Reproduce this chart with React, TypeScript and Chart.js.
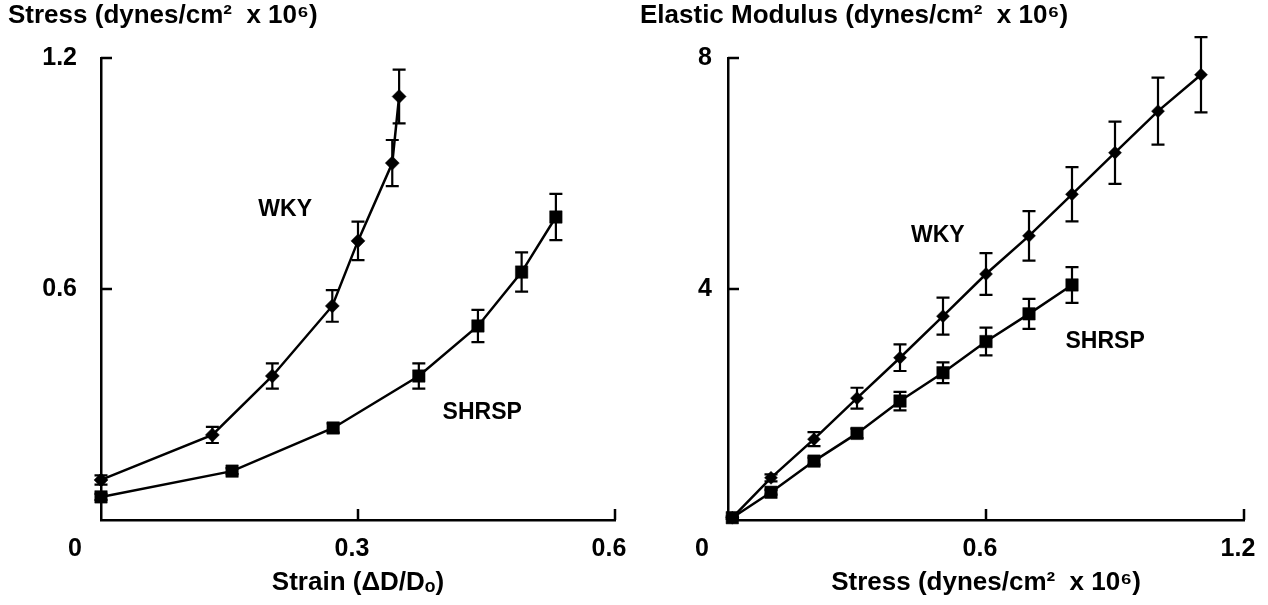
import React, { useEffect, useRef } from "react";
import { Chart, registerables } from "chart.js";

Chart.register(...registerables);

const FAMILY = "'Liberation Sans', Arial, Helvetica, sans-serif";

// ---------- Left panel: stress vs strain ----------
const leftTitle = "Stress (dynes/cm²  x 10⁶)";
const leftXTitle = "Strain (ΔD/Dₒ)";
const leftXTicks = [0, 0.3, 0.6];
const leftXTickLabels = ["", "0.3", "0.6"];
const leftYTicks = [0, 0.6, 1.2];
const leftYTickLabels = ["", "0.6", "1.2"];

const wkyStrain = [0, 0.13, 0.2, 0.27, 0.3, 0.34, 0.348];
const wkyStress = [0.104, 0.221, 0.374, 0.556, 0.725, 0.927, 1.1];
const wkyStressErr = [0.012, 0.021, 0.033, 0.041, 0.05, 0.06, 0.07];

const shrspStrain = [0, 0.153, 0.271, 0.371, 0.44, 0.491, 0.531];
const shrspStress = [0.06, 0.127, 0.239, 0.374, 0.504, 0.644, 0.787];
const shrspStressErr = [0.008, 0.008, 0.012, 0.033, 0.042, 0.051, 0.06];

const leftLabels = [
  { text: "WKY", x: 0.215, y: 0.805 },
  { text: "SHRSP", x: 0.445, y: 0.278 },
];

// ---------- Right panel: elastic modulus vs stress ----------
const rightTitle = "Elastic Modulus (dynes/cm²  x 10⁶)";
const rightXTitle = "Stress (dynes/cm²  x 10⁶)";
const rightXTicks = [0, 0.6, 1.2];
const rightXTickLabels = ["", "0.6", "1.2"];
const rightYTicks = [0, 4, 8];
const rightYTickLabels = ["", "4", "8"];

const wkyModStress = [0.01, 0.1, 0.2, 0.3, 0.4, 0.5, 0.6, 0.7, 0.8, 0.9, 1.0, 1.1];
const wkyModulus = [0.04, 0.73, 1.4, 2.11, 2.81, 3.53, 4.26, 4.92, 5.64, 6.36, 7.08, 7.71];
const wkyModulusErr = [0.02, 0.06, 0.12, 0.18, 0.23, 0.32, 0.36, 0.43, 0.47, 0.54, 0.58, 0.65];

const shrspModStress = [0.01, 0.1, 0.2, 0.3, 0.4, 0.5, 0.6, 0.7, 0.8];
const shrspModulus = [0.04, 0.48, 1.02, 1.5, 2.06, 2.55, 3.09, 3.57, 4.07];
const shrspModulusErr = [0.02, 0.04, 0.06, 0.08, 0.16, 0.18, 0.24, 0.26, 0.31];

const rightLabels = [
  { text: "WKY", x: 0.488, y: 4.93 },
  { text: "SHRSP", x: 0.877, y: 3.08 },
];

type Series = {
  name: string;
  xs: number[];
  ys: number[];
  errs: number[];
  style: string;
  radius: number;
};

type PanelSpec = {
  title: string;
  xTitle: string;
  xMax: number;
  yMax: number;
  xTicks: number[];
  xTickLabels: string[];
  yTicks: number[];
  yTickLabels: string[];
  series: Series[];
  labels: { text: string; x: number; y: number }[];
  padLeft: number;
  padRight: number;
  yWidth: number;
  yLabelPad: number;
};

const decorPlugin = {
  id: "decor",
  afterDatasetsDraw(chart: any, _args: any, opts: any) {
    const ctx = chart.ctx as CanvasRenderingContext2D;
    const xs = chart.scales.x;
    const ys = chart.scales.y;
    const area = chart.chartArea;
    ctx.save();
    ctx.strokeStyle = "#000";
    ctx.fillStyle = "#000";
    // error bars
    ctx.lineWidth = 2.2;
    chart.data.datasets.forEach((ds: any, di: number) => {
      const meta = chart.getDatasetMeta(di);
      meta.data.forEach((pt: any, i: number) => {
        const v = ds.data[i].y;
        const e = ds.errors[i];
        const yt = ys.getPixelForValue(v + e);
        const yb = ys.getPixelForValue(v - e);
        const c = opts.cap;
        ctx.beginPath();
        ctx.moveTo(pt.x, yt);
        ctx.lineTo(pt.x, yb);
        ctx.moveTo(pt.x - c, yt);
        ctx.lineTo(pt.x + c, yt);
        ctx.moveTo(pt.x - c, yb);
        ctx.lineTo(pt.x + c, yb);
        ctx.stroke();
      });
    });
    // inward tick marks
    ctx.lineWidth = 2.5;
    ctx.beginPath();
    xs.ticks.forEach((t: any) => {
      if (t.value === 0) return;
      const px = xs.getPixelForValue(t.value);
      ctx.moveTo(px, area.bottom);
      ctx.lineTo(px, area.bottom - opts.tickLen);
    });
    ys.ticks.forEach((t: any) => {
      if (t.value === 0) return;
      const py = ys.getPixelForValue(t.value);
      ctx.moveTo(area.left, py);
      ctx.lineTo(area.left + opts.tickLen, py);
    });
    ctx.stroke();
    // shared origin label
    ctx.font = `bold 25px ${FAMILY}`;
    ctx.textAlign = "center";
    ctx.textBaseline = "middle";
    ctx.fillText("0", area.left - 26, area.bottom + 29);
    // series labels
    ctx.font = `bold 23px ${FAMILY}`;
    opts.labels.forEach((l: any) => {
      ctx.fillText(l.text, xs.getPixelForValue(l.x), ys.getPixelForValue(l.y));
    });
    ctx.restore();
  },
};

function makeConfig(p: PanelSpec): any {
  const tickFont = { family: FAMILY, size: 25, weight: "bold" as const };
  const titleFont = { family: FAMILY, size: 26, weight: "bold" as const, lineHeight: 1.2 };
  return {
    type: "line",
    data: {
      datasets: p.series.map((s) => ({
        label: s.name,
        data: s.xs.map((x, i) => ({ x, y: s.ys[i] })),
        errors: s.errs,
        showLine: true,
        borderColor: "#000",
        borderWidth: 2.5,
        backgroundColor: "#000",
        pointBackgroundColor: "#000",
        pointBorderColor: "#000",
        pointBorderWidth: 0.5,
        pointStyle: s.style,
        pointRadius: s.radius,
        tension: 0,
        clip: false,
      })),
    },
    options: {
      animation: false,
      responsive: false,
      maintainAspectRatio: false,
      events: [],
      layout: { padding: { left: p.padLeft, right: p.padRight, top: 0, bottom: 0 } },
      plugins: {
        legend: { display: false },
        tooltip: { enabled: false },
        title: {
          display: true,
          text: p.title,
          align: "start",
          color: "#000",
          font: titleFont,
          padding: { top: 0, bottom: 26.8 },
        },
        decor: { labels: p.labels, cap: 6.5, tickLen: 11 },
      },
      scales: {
        x: {
          type: "linear",
          min: 0,
          max: p.xMax,
          afterBuildTicks: (s: any) => {
            s.ticks = p.xTicks.map((v) => ({ value: v }));
          },
          afterFit: (s: any) => {
            s.height = 85;
            s.paddingLeft = 0;
            s.paddingRight = 0;
          },
          ticks: {
            color: "#000",
            font: tickFont,
            padding: 14,
            labelOffset: -6,
            maxRotation: 0,
            callback: (_v: any, i: number) => p.xTickLabels[i],
          },
          grid: { display: false, drawTicks: false },
          border: { display: true, color: "#000", width: 2.5 },
          title: {
            display: true,
            text: p.xTitle,
            color: "#000",
            font: titleFont,
            padding: { top: 0, bottom: 7 },
          },
        },
        y: {
          type: "linear",
          min: 0,
          max: p.yMax,
          afterBuildTicks: (s: any) => {
            s.ticks = p.yTicks.map((v) => ({ value: v }));
          },
          afterFit: (s: any) => {
            s.width = p.yWidth;
            s.paddingTop = 0;
            s.paddingBottom = 0;
          },
          ticks: {
            color: "#000",
            font: tickFont,
            padding: p.yLabelPad,
            callback: (_v: any, i: number) => p.yTickLabels[i],
          },
          grid: { display: false, drawTicks: false },
          border: { display: true, color: "#000", width: 2.5 },
        },
      },
    },
    plugins: [decorPlugin],
  };
}

const leftSpec: PanelSpec = {
  title: leftTitle,
  xTitle: leftXTitle,
  xMax: 0.6,
  yMax: 1.2,
  xTicks: leftXTicks,
  xTickLabels: leftXTickLabels,
  yTicks: leftYTicks,
  yTickLabels: leftYTickLabels,
  series: [
    { name: "WKY", xs: wkyStrain, ys: wkyStress, errs: wkyStressErr, style: "rectRot", radius: 7 },
    { name: "SHRSP", xs: shrspStrain, ys: shrspStress, errs: shrspStressErr, style: "rect", radius: 8.8 },
  ],
  labels: leftLabels,
  padLeft: 8,
  padRight: 19,
  yWidth: 93,
  yLabelPad: 24,
};

const rightSpec: PanelSpec = {
  title: rightTitle,
  xTitle: rightXTitle,
  xMax: 1.2,
  yMax: 8,
  xTicks: rightXTicks,
  xTickLabels: rightXTickLabels,
  yTicks: rightYTicks,
  yTickLabels: rightYTickLabels,
  series: [
    { name: "WKY", xs: wkyModStress, ys: wkyModulus, errs: wkyModulusErr, style: "rectRot", radius: 6.5 },
    { name: "SHRSP", xs: shrspModStress, ys: shrspModulus, errs: shrspModulusErr, style: "rect", radius: 8.8 },
  ],
  labels: rightLabels,
  padLeft: 6,
  padRight: 24,
  yWidth: 88,
  yLabelPad: 16,
};

function Panel({ spec, left }: { spec: PanelSpec; left: number }) {
  const ref = useRef<HTMLCanvasElement>(null);
  useEffect(() => {
    const chart = new Chart(ref.current as HTMLCanvasElement, makeConfig(spec));
    return () => chart.destroy();
  }, [spec]);
  return (
    <canvas
      ref={ref}
      width={634}
      height={605}
      style={{ position: "absolute", left, top: 0, width: 634, height: 605 }}
    />
  );
}

export default function App() {
  return (
    <div
      style={{
        position: "absolute",
        left: 0,
        top: 0,
        width: 1268,
        height: 605,
        background: "#fff",
        overflow: "hidden",
      }}
    >
      <Panel spec={leftSpec} left={0} />
      <Panel spec={rightSpec} left={634} />
    </div>
  );
}
